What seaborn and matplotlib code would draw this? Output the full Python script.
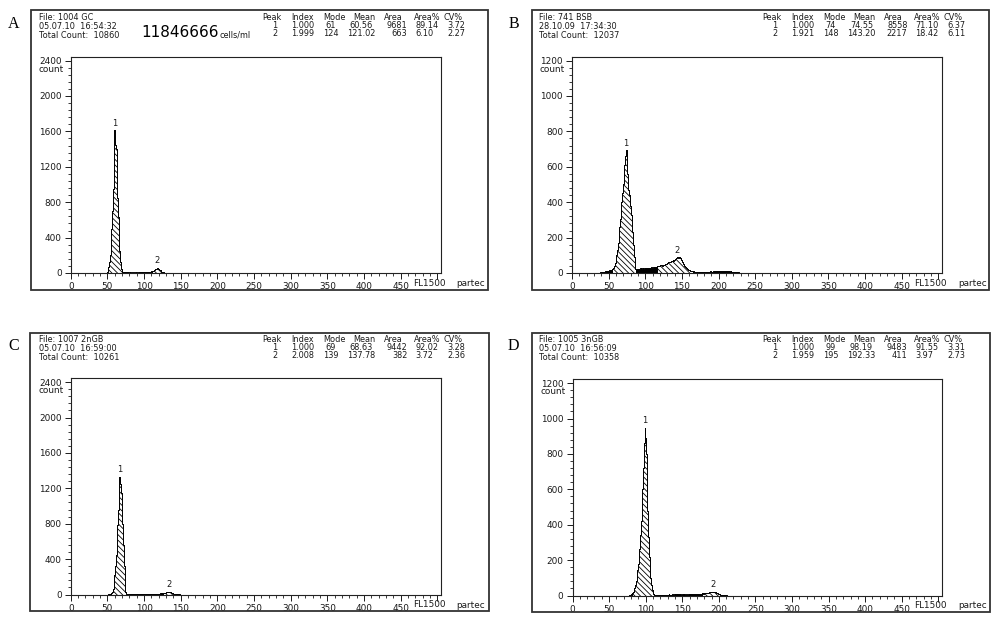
import numpy as np
import pandas as pd
import matplotlib
matplotlib.use("Agg")
import matplotlib.pyplot as plt
import seaborn as sns
from matplotlib.patches import Rectangle
from matplotlib.ticker import MultipleLocator

sns.set_style("white")
plt.rcParams['font.family'] = ['DejaVu Sans']
plt.rcParams['hatch.linewidth'] = 0.6

# ---- histogram counts per FL1 channel (first channel given by *_start) ----
a_start = 45
a_counts = [0, 0, 0, 2, 5,
            15, 40, 70, 120, 200, 330, 500, 700, 950, 1250,
            1610, 1450, 1400, 1100, 850, 630, 420, 250, 120, 40,
            10, 6, 8, 7, 9, 10, 8, 7, 6, 6,
            5, 6, 5, 6, 5, 5, 6, 5, 6, 6,
            6, 5, 6, 7, 6, 7, 8, 7, 8, 9,
            10, 9, 11, 12, 10, 12, 14, 12, 13, 15,
            17, 20, 22, 26, 30, 35, 40, 48, 55, 52,
            45, 38, 30, 22, 16, 11, 8, 6, 4, 3,
            3, 2, 2, 2, 1, 1, 1, 0, 0, 0]
a_gates = [(49, 70), (112, 127)]

b_start = 38
b_counts = [2, 3, 3, 4, 5, 6, 8, 9, 10, 11,
            12, 13, 14, 15, 16, 17, 18, 20, 25, 30,
            40, 55, 75, 100, 130, 170, 215, 260, 305, 350,
            400, 450, 505, 560, 610, 660, 693, 640, 560, 470,
            440, 420, 380, 330, 280, 230, 160, 90, 40, 25,
            22, 24, 23, 25, 24, 26, 25, 27, 24, 26,
            25, 27, 28, 26, 27, 29, 28, 30, 29, 31,
            30, 32, 31, 33, 34, 33, 35, 36, 37, 38,
            40, 39, 41, 43, 45, 44, 42, 43, 45, 48,
            50, 52, 55, 58, 60, 62, 63, 65, 68, 70,
            72, 70, 74, 78, 82, 85, 88, 86, 84, 88,
            82, 75, 68, 60, 52, 45, 40, 35, 30, 26,
            22, 19, 16, 14, 12, 11, 10, 9, 9, 8,
            8, 7, 8, 7, 7, 8, 7, 6, 7, 6,
            7, 6, 6, 7, 8, 7, 6, 7, 8, 7,
            8, 9, 8, 7, 8, 9, 10, 9, 10, 9,
            8, 9, 10, 11, 10, 9, 10, 11, 12, 11,
            10, 11, 12, 11, 10, 9, 10, 9, 8, 9,
            8, 7, 6, 6, 5, 5, 4, 4, 3, 3,
            3, 2, 2, 2, 1, 1, 1, 0]
b_gates = [(55, 87), (117, 165)]

c_start = 50
c_counts = [0, 1, 1, 2, 4, 8, 15, 30, 60, 120,
            220, 320, 450, 600, 780, 950, 1150, 1330, 1250, 1150,
            1000, 800, 560, 320, 110, 30, 10, 6, 5, 4,
            4, 5, 4, 4, 5, 4, 5, 5, 4, 5,
            5, 6, 5, 6, 6, 7, 6, 7, 8, 7,
            8, 9, 10, 9, 10, 11, 10, 9, 10, 9,
            8, 9, 8, 7, 8, 9, 8, 9, 10, 9,
            10, 11, 12, 11, 12, 14, 15, 16, 18, 20,
            22, 25, 27, 30, 32, 30, 27, 22, 17, 12,
            8, 6, 4, 3, 3, 2, 2, 1, 1, 0]
c_gates = [(56, 76), (126, 142)]

d_start = 78
d_counts = [1, 2, 4, 8, 15, 20, 25, 40, 58, 80,
            110, 145, 180, 215, 265, 340, 420, 500, 600, 720,
            860, 945, 890, 800, 680, 480, 330, 220, 150, 100,
            60, 30, 12, 7, 5, 4, 4, 5, 4, 5,
            4, 5, 4, 4, 5, 5, 4, 5, 4, 5,
            5, 4, 5, 5, 6, 5, 4, 5, 5, 6,
            5, 6, 5, 6, 6, 5, 6, 7, 6, 5,
            6, 5, 6, 6, 7, 6, 5, 6, 6, 5,
            6, 7, 6, 6, 7, 8, 7, 8, 7, 8,
            8, 9, 8, 9, 10, 9, 10, 11, 10, 11,
            12, 11, 12, 13, 14, 13, 15, 16, 15, 17,
            18, 19, 20, 21, 22, 21, 20, 18, 16, 14,
            12, 10, 8, 7, 5, 4, 3, 3, 2, 2,
            1, 1, 1, 0, 0]
d_gates = [(82, 111), (178, 205)]

# ---- header texts ----
col_names = ["Peak", "Index", "Mode", "Mean", "Area", "Area%", "CV%"]
a_info = ["File: 1004 GC", "05.07.10  16:54:32", "Total Count:  10860"]
b_info = ["File: 741 BSB", "28.10.09  17:34:30", "Total Count:  12037"]
c_info = ["File: 1007 2nGB", "05.07.10  16:59:00", "Total Count:  10261"]
d_info = ["File: 1005 3nGB", "05.07.10  16:56:09", "Total Count:  10358"]
a_rows = [["1", "1.000", "61", "60.56", "9681", "89.14", "3.72"],
          ["2", "1.999", "124", "121.02", "663", "6.10", "2.27"]]
b_rows = [["1", "1.000", "74", "74.55", "8558", "71.10", "6.37"],
          ["2", "1.921", "148", "143.20", "2217", "18.42", "6.11"]]
c_rows = [["1", "1.000", "69", "68.63", "9442", "92.02", "3.28"],
          ["2", "2.008", "139", "137.78", "382", "3.72", "2.36"]]
d_rows = [["1", "1.000", "99", "98.19", "9483", "91.55", "3.31"],
          ["2", "1.959", "195", "192.33", "411", "3.97", "2.73"]]
x_ticks = [0, 50, 100, 150, 200, 250, 300, 350, 400, 450, 500]
x_labels = ["0", "50", "100", "150", "200", "250", "300", "350", "400", "450", ""]

W, H = 1000, 622
fig = plt.figure(figsize=(W / 100, H / 100), dpi=100)
TXT = "#1a1a1a"


def px(x):
    return x / W


def py(y):
    return 1 - y / H


def draw_panel(letter, start, counts, gates, info, rows, ymax, ystep,
               box, axbox, ox, oy, big=None):
    # outer frame
    x0, y0, x1, y1 = box
    fig.add_artist(Rectangle((px(x0), py(y1)), px(x1 - x0), (y1 - y0) / H,
                             fill=False, lw=1.3, ec="#333333",
                             transform=fig.transFigure))
    fig.text(px(ox + 13.5), py(oy + 24), letter, family="Liberation Serif",
             fontsize=11.5, ha="center", va="center", color="black")

    # header
    for i, line in enumerate(info):
        fig.text(px(ox + 39), py(oy + 17.5 + 8.8 * i), line, fontsize=5.9,
                 ha="left", va="center", color=TXT)
    head_x = [271.5, 302.5, 334.5, 364.5, 393, 427.5, 453.5]
    val_pos = [(275, "center"), (302.5, "center"), (331, "center"),
               (361.5, "center"), (407.5, "right"), (415, "left"),
               (447, "left")]
    for hx, name in zip(head_x, col_names):
        fig.text(px(ox + hx), py(oy + 17.5), name, fontsize=5.9,
                 ha="center", va="center", color=TXT)
    for r, row in enumerate(rows):
        for (vx, ha), val in zip(val_pos, row):
            fig.text(px(ox + vx), py(oy + 26 + 7 * r), val, fontsize=5.9,
                     ha=ha, va="center", color=TXT)
    if big is not None:
        fig.text(px(ox + 141), py(oy + 37), big, fontsize=11, ha="left",
                 va="baseline", color="black")
        fig.text(px(ox + 220), py(oy + 37), "cells/ml", fontsize=5.9,
                 ha="left", va="baseline", color=TXT)

    # histogram axes
    l, t, r_, b = axbox
    ax = fig.add_axes([px(l), py(b), px(r_ - l), (b - t) / H])
    ch = np.arange(start, start + len(counts))
    df = pd.DataFrame({"channel": ch, "count": counts})
    edges = list(np.arange(start - 0.5, start + len(counts) + 0.5))
    sns.histplot(data=df, x="channel", weights="count", bins=edges,
                 element="step", fill=True, color="black", alpha=1,
                 linewidth=0.7, ax=ax)
    for k, (lo, hi) in enumerate(gates):
        sub = df[(df["channel"] >= lo) & (df["channel"] <= hi)]
        sns.histplot(data=sub, x="channel", weights="count",
                     bins=list(np.arange(lo - 0.5, hi + 1.5)), element="step",
                     fill=True, facecolor="white", edgecolor="black",
                     hatch="\\\\\\\\\\\\", alpha=1, linewidth=0.7, ax=ax)
        top = sub.loc[sub["count"].idxmax()]
        ax.annotate(str(k + 1), (top["channel"], top["count"]),
                    xytext=(0, 2), textcoords="offset points", ha="center",
                    va="bottom", fontsize=6, color=TXT)

    ax.set_xlim(0, 505)
    ax.set_ylim(0, ymax * 1.018)
    ax.set_xticks(x_ticks)
    ax.set_xticklabels(x_labels)
    ax.set_yticks(np.arange(0, ymax + 1, ystep))
    ax.xaxis.set_minor_locator(MultipleLocator(10))
    ax.yaxis.set_minor_locator(MultipleLocator(ystep / 5))
    ax.tick_params(which="major", direction="out", length=4, width=0.7,
                   labelsize=6.4, pad=2.5, colors=TXT, bottom=True, left=True)
    ax.tick_params(which="minor", direction="out", length=2, width=0.6,
                   bottom=True, left=True, colors=TXT)
    ax.set_xlabel("")
    ax.set_ylabel("")
    for s in ax.spines.values():
        s.set_linewidth(0.8)
        s.set_color("#222222")

    fig.text(px(l - 7), py(t + 12.5), "count", fontsize=6.4, ha="right",
             va="center", color=TXT)
    fig.text(px(l + 374.5), py(b + 10), "FL1500", fontsize=6.4, ha="right",
             va="center", color=TXT)
    fig.text(px(l + 386), py(b + 10.5), "partec", fontsize=6.4, ha="left",
             va="center", color=TXT)
    return ax


draw_panel("A", a_start, a_counts, a_gates, a_info, a_rows, 2400, 400,
           (31, 10, 488, 290), (70.7, 56.7, 441, 273), 0, 0, big="11846666")
draw_panel("B", b_start, b_counts, b_gates, b_info, b_rows, 1200, 200,
           (532, 10, 989, 290), (572, 56.7, 942, 273), 500, 0)
draw_panel("C", c_start, c_counts, c_gates, c_info, c_rows, 2400, 400,
           (30, 333, 489, 611), (70.7, 378.3, 441, 594.5), 0, 322)
draw_panel("D", d_start, d_counts, d_gates, d_info, d_rows, 1200, 200,
           (532, 333, 990, 612), (572.5, 379.3, 942, 595.5), 500, 322)

fig.savefig("out.png", dpi=100, facecolor="white")
